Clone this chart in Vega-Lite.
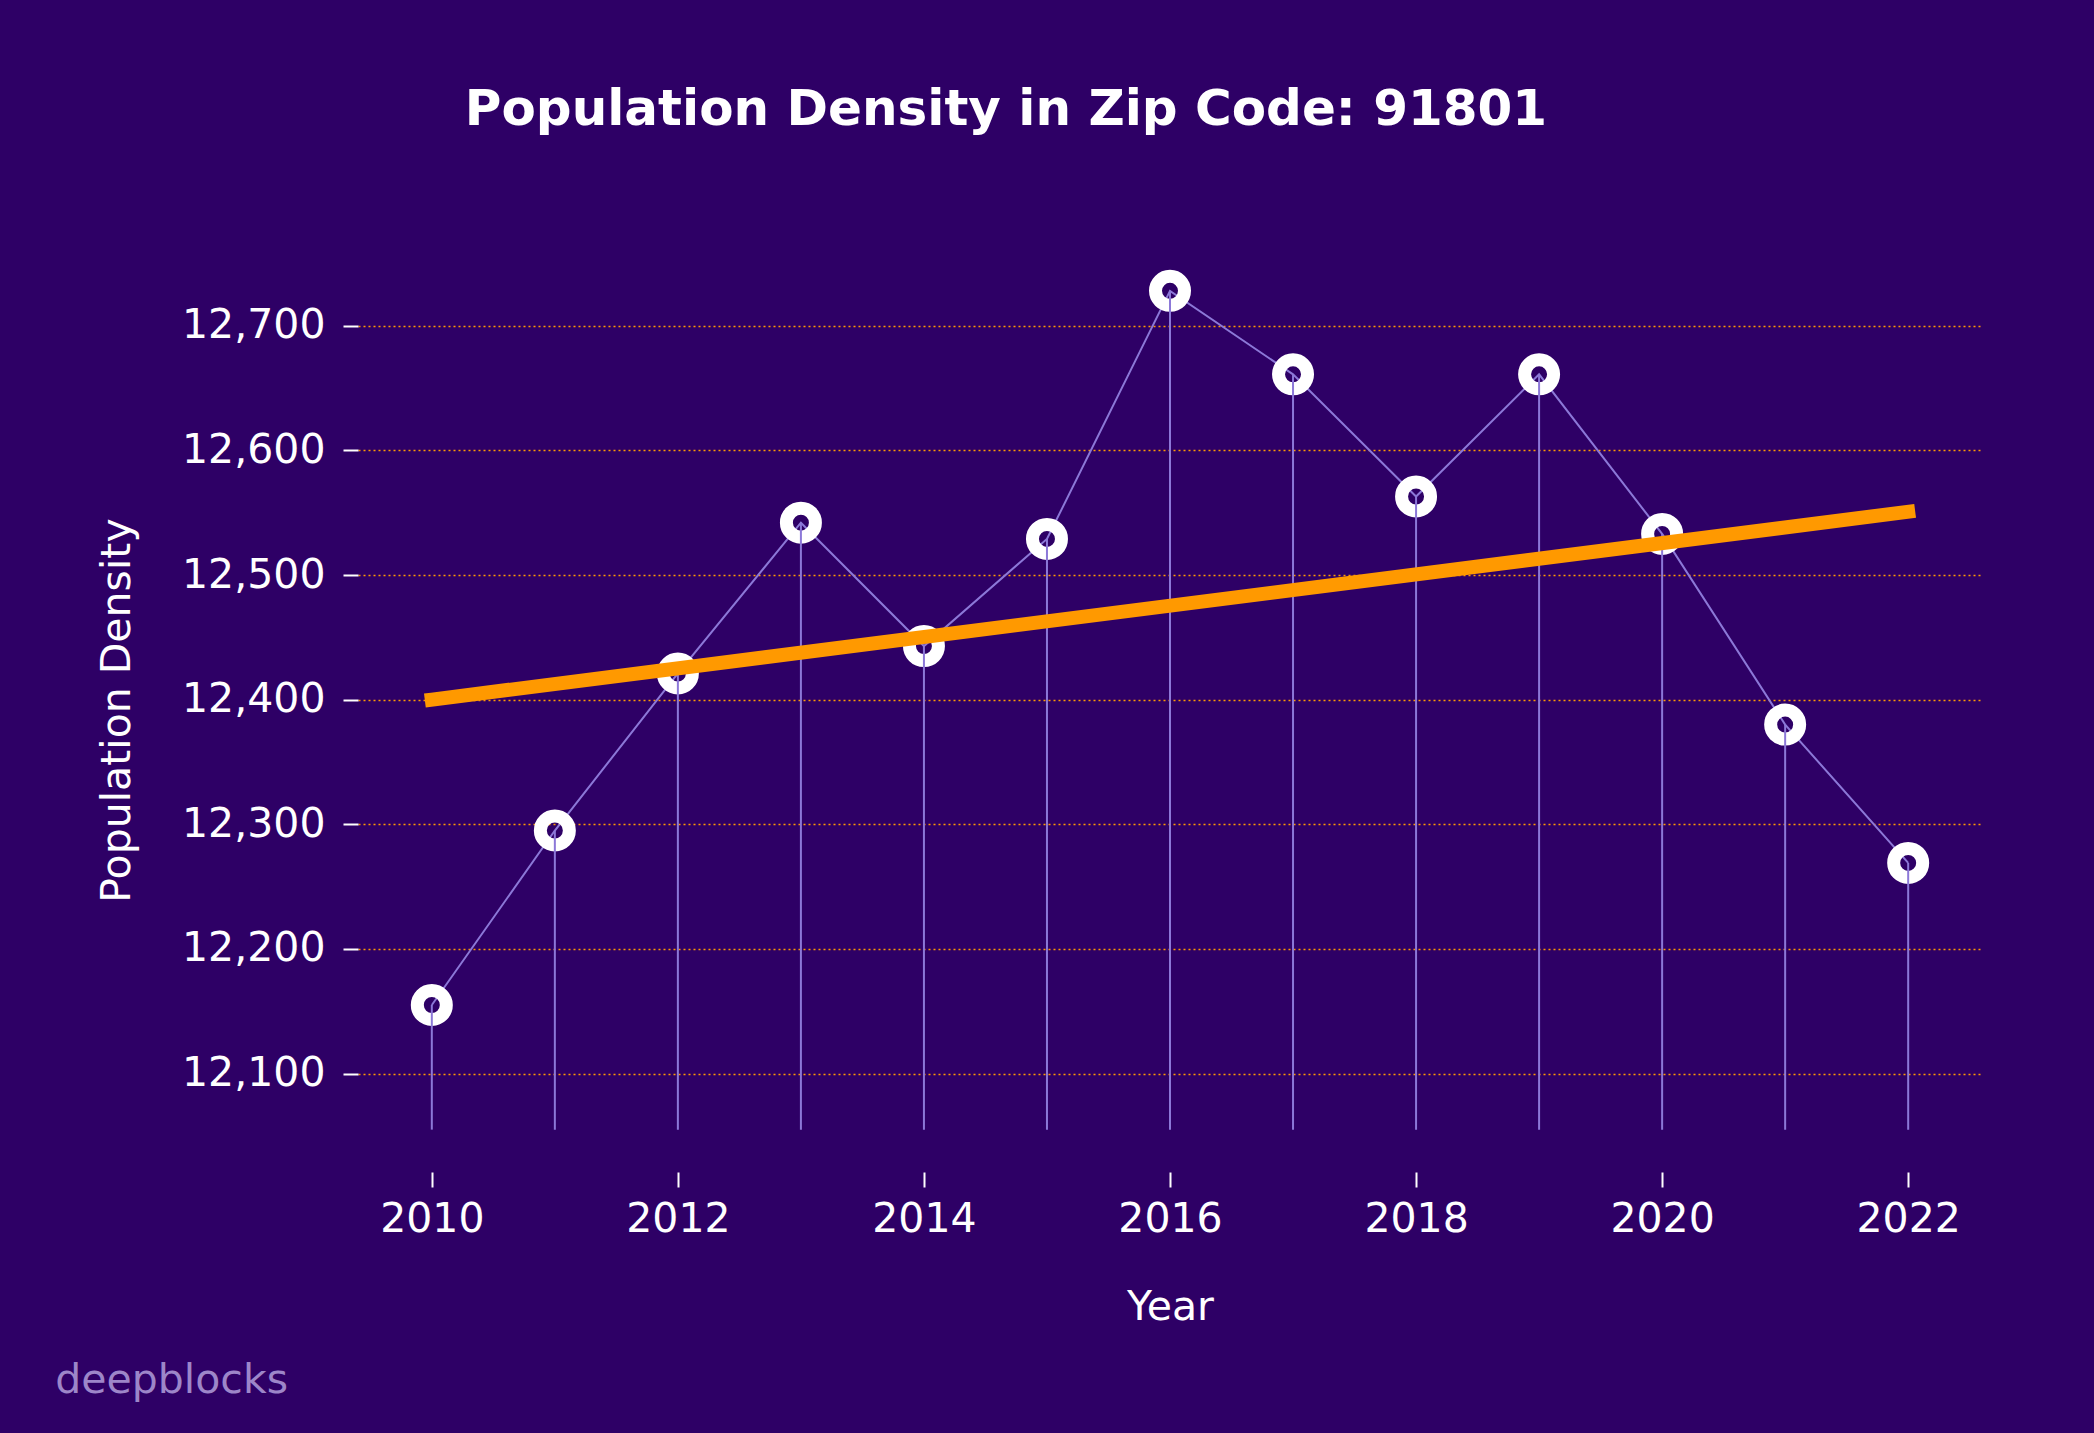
{
  "$schema": "https://vega.github.io/schema/vega-lite/v6.json",
  "width": 1624,
  "height": 926,
  "autosize": "none",
  "padding": {"left": 358, "top": 246, "right": 112, "bottom": 261},
  "background": "#2e0066",
  "config": {"view": {"stroke": null}, "font": "DejaVu Sans"},
  "title": {
    "text": "Population Density in Zip Code: 91801",
    "anchor": "middle",
    "frame": "group",
    "dx": -164,
    "baseline": "alphabetic",
    "offset": 71,
    "fontSize": 50,
    "fontWeight": "bold",
    "color": "#ffffff",
    "font": "DejaVu Sans"
  },
  "data": {
    "values": [
      {"year": 2010, "value": 12155},
      {"year": 2011, "value": 12295},
      {"year": 2012, "value": 12421},
      {"year": 2013, "value": 12542},
      {"year": 2014, "value": 12443},
      {"year": 2015, "value": 12529},
      {"year": 2016, "value": 12728},
      {"year": 2017, "value": 12661},
      {"year": 2018, "value": 12563},
      {"year": 2019, "value": 12661},
      {"year": 2020, "value": 12533},
      {"year": 2021, "value": 12380},
      {"year": 2022, "value": 12269}
    ]
  },
  "resolve": {"axis": {"x": "independent", "y": "independent"}},
  "layer": [
    {
      "encoding": {
        "x": {
          "field": "year",
          "type": "quantitative",
          "scale": {"domain": [2009.4, 2022.6], "nice": false, "zero": false},
          "axis": {
            "title": "Year",
            "values": [2010, 2012, 2014, 2016, 2018, 2020, 2022],
            "format": "d",
            "grid": false,
            "domain": false,
            "ticks": true,
            "tickColor": "#ffffff",
            "tickSize": 15,
            "tickWidth": 2,
            "labelColor": "#ffffff",
            "labelFontSize": 41,
            "labelFont": "DejaVu Sans",
            "labelPadding": 12,
            "titleColor": "#ffffff",
            "titleFontSize": 41,
            "titleFontWeight": "normal",
            "titleFont": "DejaVu Sans",
            "titleBaseline": "alphabetic",
            "titleY": 147
          }
        },
        "y": {
          "field": "value",
          "type": "quantitative",
          "scale": {"domain": [12021, 12764], "nice": false, "zero": false},
          "axis": {
            "title": "Population Density",
            "values": [12100, 12200, 12300, 12400, 12500, 12600, 12700],
            "format": ",.0f",
            "grid": true,
            "gridColor": "#ff9900",
            "gridDash": [2, 3],
            "gridWidth": 1.6,
            "domain": false,
            "tickColor": "#ffffff",
            "tickSize": 15,
            "tickWidth": 2,
            "labelColor": "#ffffff",
            "labelFontSize": 41,
            "labelFont": "DejaVu Sans",
            "labelPadding": 18,
            "titleColor": "#ffffff",
            "titleFontSize": 41,
            "titleFontWeight": "normal",
            "titleFont": "DejaVu Sans",
            "titleAngle": -90,
            "titleAlign": "center",
            "titleBaseline": "alphabetic",
            "titleX": -229,
            "titleY": 464
          }
        }
      },
      "layer": [
        {
          "mark": {"type": "line", "color": "#8c78d8", "strokeWidth": 2}
        },
        {
          "mark": {"type": "point", "shape": "circle", "filled": false, "stroke": "#ffffff", "strokeWidth": 13, "size": 841, "opacity": 1}
        },
        {
          "mark": {"type": "rule", "color": "#8c78d8", "strokeWidth": 2},
          "encoding": {"y2": {"datum": 12055}}
        },
        {
          "transform": [{"regression": "value", "on": "year"}],
          "mark": {"type": "line", "color": "#ff9900", "strokeWidth": 14, "strokeCap": "square"}
        }
      ]
    },
    {
      "data": {"values": [{"label": "deepblocks"}]},
      "mark": {"type": "text", "align": "left", "baseline": "alphabetic", "fontSize": 41, "font": "DejaVu Sans", "color": "#9d86c9", "clip": false},
      "encoding": {
        "x": {"datum": 2006.94, "type": "quantitative", "axis": null},
        "y": {"datum": 11844, "type": "quantitative", "axis": null},
        "text": {"field": "label", "type": "nominal"}
      }
    }
  ]
}
